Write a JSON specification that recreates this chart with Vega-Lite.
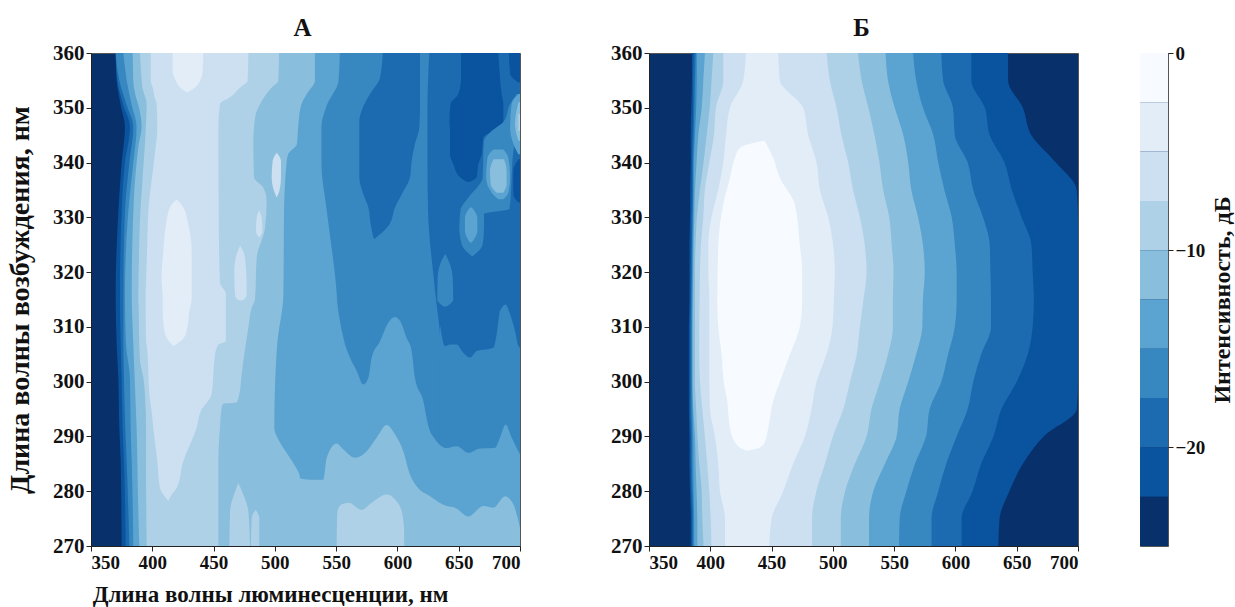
{"$schema":"https://vega.github.io/schema/vega-lite/v6.json","background":"white","padding":{"left":6,"top":15,"right":5,"bottom":0},"config":{"view":{"fill":"#08306b","stroke":"#555","strokeWidth":1},"font":"Liberation Serif"},
"datasets":{
"aBase":[
{"band":"a8","lvl":8,"ex":360,"x0":370.1,"x1":700},{"band":"a8","lvl":8,"ex":355,"x0":370.9,"x1":700},{"band":"a8","lvl":8,"ex":350.5,"x0":374.2,"x1":700},{"band":"a8","lvl":8,"ex":346.5,"x0":377.7,"x1":700},{"band":"a8","lvl":8,"ex":340,"x0":375,"x1":700},{"band":"a8","lvl":8,"ex":331,"x0":372.3,"x1":700},{"band":"a8","lvl":8,"ex":316,"x0":370.1,"x1":700},{"band":"a8","lvl":8,"ex":307,"x0":370.9,"x1":700},{"band":"a8","lvl":8,"ex":300.5,"x0":372.3,"x1":700},{"band":"a8","lvl":8,"ex":291.5,"x0":373.1,"x1":700},{"band":"a8","lvl":8,"ex":285.5,"x0":374.2,"x1":700},{"band":"a8","lvl":8,"ex":270,"x0":375,"x1":700},
{"band":"a7","lvl":7,"ex":360,"x0":370.1,"x1":700},{"band":"a7","lvl":7,"ex":355,"x0":371.5,"x1":700},{"band":"a7","lvl":7,"ex":350.5,"x0":376.4,"x1":700},{"band":"a7","lvl":7,"ex":346.5,"x0":381.8,"x1":700},{"band":"a7","lvl":7,"ex":340,"x0":377.7,"x1":700},{"band":"a7","lvl":7,"ex":331,"x0":375,"x1":700},{"band":"a7","lvl":7,"ex":316,"x0":373.6,"x1":700},{"band":"a7","lvl":7,"ex":307,"x0":374.2,"x1":700},{"band":"a7","lvl":7,"ex":300.5,"x0":375,"x1":700},{"band":"a7","lvl":7,"ex":291.5,"x0":375.8,"x1":700},{"band":"a7","lvl":7,"ex":285.5,"x0":376.9,"x1":700},{"band":"a7","lvl":7,"ex":270,"x0":378.3,"x1":700},
{"band":"a6","lvl":6,"ex":360,"x0":370.1,"x1":626},{"band":"a6","lvl":6,"ex":355,"x0":373.1,"x1":625},{"band":"a6","lvl":6,"ex":350.5,"x0":379.1,"x1":624.5},{"band":"a6","lvl":6,"ex":346.5,"x0":384.5,"x1":624.5},{"band":"a6","lvl":6,"ex":340,"x0":381.3,"x1":624.5},{"band":"a6","lvl":6,"ex":331,"x0":377.7,"x1":625},{"band":"a6","lvl":6,"ex":316,"x0":376.4,"x1":631},{"band":"a6","lvl":6,"ex":307,"x0":376.4,"x1":635},{"band":"a6","lvl":6,"ex":300.5,"x0":376.9,"x1":635},{"band":"a6","lvl":6,"ex":291.5,"x0":378,"x1":635},{"band":"a6","lvl":6,"ex":285.5,"x0":379.1,"x1":635},{"band":"a6","lvl":6,"ex":270,"x0":381.3,"x1":635},
{"band":"a5","lvl":5,"ex":360,"x0":376.4,"x1":553},{"band":"a5","lvl":5,"ex":355,"x0":379.1,"x1":552},{"band":"a5","lvl":5,"ex":350.5,"x0":383.2,"x1":542.5},{"band":"a5","lvl":5,"ex":346.5,"x0":387.2,"x1":538},{"band":"a5","lvl":5,"ex":340,"x0":384.5,"x1":538},{"band":"a5","lvl":5,"ex":331,"x0":380.4,"x1":542.5},{"band":"a5","lvl":5,"ex":316,"x0":377.7,"x1":550.5},{"band":"a5","lvl":5,"ex":307,"x0":378.5,"x1":552},{"band":"a5","lvl":5,"ex":300.5,"x0":381.8,"x1":552},{"band":"a5","lvl":5,"ex":291.5,"x0":382.3,"x1":552},{"band":"a5","lvl":5,"ex":285.5,"x0":383.2,"x1":552},{"band":"a5","lvl":5,"ex":270,"x0":384.5,"x1":552}
],
"aBottom":[
{"band":"v6","lvl":6,"nm":634.7,"ex":310.5,"base":270},{"band":"v6","lvl":6,"nm":638.8,"ex":306.5,"base":270},{"band":"v6","lvl":6,"nm":642.9,"ex":306.8,"base":270},{"band":"v6","lvl":6,"nm":648.3,"ex":306.8,"base":270},{"band":"v6","lvl":6,"nm":653.8,"ex":305.3,"base":270},{"band":"v6","lvl":6,"nm":659.2,"ex":304.4,"base":270},{"band":"v6","lvl":6,"nm":664.7,"ex":305.6,"base":270},{"band":"v6","lvl":6,"nm":678.3,"ex":306.2,"base":270},{"band":"v6","lvl":6,"nm":681,"ex":308.7,"base":270},{"band":"v6","lvl":6,"nm":683.7,"ex":312.9,"base":270},{"band":"v6","lvl":6,"nm":688.3,"ex":314.1,"base":270},{"band":"v6","lvl":6,"nm":691.9,"ex":312.3,"base":270},{"band":"v6","lvl":6,"nm":695.9,"ex":309.3,"base":270},{"band":"v6","lvl":6,"nm":698.7,"ex":306.5,"base":270},{"band":"v6","lvl":6,"nm":700,"ex":306.2,"base":270},
{"band":"v5","lvl":5,"nm":549.9,"ex":316,"base":270},{"band":"v5","lvl":5,"nm":551,"ex":314.1,"base":270},{"band":"v5","lvl":5,"nm":555.9,"ex":308,"base":270},{"band":"v5","lvl":5,"nm":561.3,"ex":304.4,"base":270},{"band":"v5","lvl":5,"nm":566.7,"ex":302,"base":270},{"band":"v5","lvl":5,"nm":572.2,"ex":299.5,"base":270},{"band":"v5","lvl":5,"nm":576.3,"ex":300.7,"base":270},{"band":"v5","lvl":5,"nm":579,"ex":304.4,"base":270},{"band":"v5","lvl":5,"nm":585.8,"ex":307.4,"base":270},{"band":"v5","lvl":5,"nm":592.6,"ex":310.8,"base":270},{"band":"v5","lvl":5,"nm":598,"ex":311.8,"base":270},{"band":"v5","lvl":5,"nm":602.1,"ex":311.1,"base":270},{"band":"v5","lvl":5,"nm":607.5,"ex":308,"base":270},{"band":"v5","lvl":5,"nm":611.6,"ex":305.6,"base":270},{"band":"v5","lvl":5,"nm":614.3,"ex":300.7,"base":270},{"band":"v5","lvl":5,"nm":621.1,"ex":296.5,"base":270},{"band":"v5","lvl":5,"nm":625.2,"ex":291.9,"base":270},{"band":"v5","lvl":5,"nm":630.7,"ex":289.5,"base":270},{"band":"v5","lvl":5,"nm":640.2,"ex":287.9,"base":270},{"band":"v5","lvl":5,"nm":648.3,"ex":288.2,"base":270},{"band":"v5","lvl":5,"nm":657.9,"ex":287,"base":270},{"band":"v5","lvl":5,"nm":667.4,"ex":287.8,"base":270},{"band":"v5","lvl":5,"nm":679.6,"ex":287.9,"base":270},{"band":"v5","lvl":5,"nm":683.7,"ex":289.8,"base":270},{"band":"v5","lvl":5,"nm":688.3,"ex":292.2,"base":270},{"band":"v5","lvl":5,"nm":693.2,"ex":289.8,"base":270},{"band":"v5","lvl":5,"nm":700,"ex":286.7,"base":270},
{"band":"v4","lvl":4,"nm":519,"ex":282.4,"base":270},{"band":"v4","lvl":4,"nm":528.7,"ex":282.1,"base":270},{"band":"v4","lvl":4,"nm":539.5,"ex":282.1,"base":270},{"band":"v4","lvl":4,"nm":542.3,"ex":286.1,"base":270},{"band":"v4","lvl":4,"nm":550.4,"ex":288.7,"base":270},{"band":"v4","lvl":4,"nm":555.9,"ex":287.6,"base":270},{"band":"v4","lvl":4,"nm":565.4,"ex":286.1,"base":270},{"band":"v4","lvl":4,"nm":574.9,"ex":287.3,"base":270},{"band":"v4","lvl":4,"nm":583.1,"ex":289.8,"base":270},{"band":"v4","lvl":4,"nm":591.2,"ex":292.1,"base":270},{"band":"v4","lvl":4,"nm":598,"ex":290.4,"base":270},{"band":"v4","lvl":4,"nm":604.8,"ex":287.3,"base":270},{"band":"v4","lvl":4,"nm":610.3,"ex":283,"base":270},{"band":"v4","lvl":4,"nm":615.7,"ex":280.9,"base":270},{"band":"v4","lvl":4,"nm":626.6,"ex":279.1,"base":270},{"band":"v4","lvl":4,"nm":640.2,"ex":277.3,"base":270},{"band":"v4","lvl":4,"nm":647,"ex":277,"base":270},{"band":"v4","lvl":4,"nm":657.9,"ex":275.4,"base":270},{"band":"v4","lvl":4,"nm":670.1,"ex":277.3,"base":270},{"band":"v4","lvl":4,"nm":678.3,"ex":277,"base":270},{"band":"v4","lvl":4,"nm":687.8,"ex":279.1,"base":270},{"band":"v4","lvl":4,"nm":694.6,"ex":277.6,"base":270},{"band":"v4","lvl":4,"nm":700,"ex":273.3,"base":270},
{"band":"v3","lvl":3,"nm":550.4,"ex":270.2,"base":270},{"band":"v3","lvl":3,"nm":551,"ex":276.3,"base":270},{"band":"v3","lvl":3,"nm":554.5,"ex":277.6,"base":270},{"band":"v3","lvl":3,"nm":560,"ex":277.9,"base":270},{"band":"v3","lvl":3,"nm":570.8,"ex":276.6,"base":270},{"band":"v3","lvl":3,"nm":579,"ex":277.9,"base":270},{"band":"v3","lvl":3,"nm":591.2,"ex":279.4,"base":270},{"band":"v3","lvl":3,"nm":598,"ex":278.5,"base":270},{"band":"v3","lvl":3,"nm":603.5,"ex":276.3,"base":270},{"band":"v3","lvl":3,"nm":605.4,"ex":273.3,"base":270},{"band":"v3","lvl":3,"nm":605.6,"ex":270.2,"base":270}
],
"aTop":[
{"band":"t4","lvl":4,"ex":360,"x0":384,"x1":532.7},{"band":"t4","lvl":4,"ex":355,"x0":384.5,"x1":532.7},{"band":"t4","lvl":4,"ex":352.5,"x0":386,"x1":526},{"band":"t4","lvl":4,"ex":350.5,"x0":388.6,"x1":521.5},{"band":"t4","lvl":4,"ex":346.5,"x0":391.3,"x1":519},{"band":"t4","lvl":4,"ex":343.4,"x0":389,"x1":518},{"band":"t4","lvl":4,"ex":341.6,"x0":388,"x1":511},{"band":"t4","lvl":4,"ex":340,"x0":387.2,"x1":509.6},{"band":"t4","lvl":4,"ex":331,"x0":384.5,"x1":507.5},{"band":"t4","lvl":4,"ex":316,"x0":383.2,"x1":507},{"band":"t4","lvl":4,"ex":307,"x0":384.5,"x1":502},{"band":"t4","lvl":4,"ex":303.8,"x0":385,"x1":501},{"band":"t4","lvl":4,"ex":291.5,"x0":387.2,"x1":499.6},{"band":"t4","lvl":4,"ex":289,"x0":387.5,"x1":504},{"band":"t4","lvl":4,"ex":285.5,"x0":387.8,"x1":514},{"band":"t4","lvl":4,"ex":282.4,"x0":388,"x1":520.5},{"band":"t4","lvl":4,"ex":270,"x0":389.4,"x1":520.5},
{"band":"t3","lvl":3,"ex":360,"x0":390,"x1":503.4},{"band":"t3","lvl":3,"ex":355,"x0":391.3,"x1":502.8},{"band":"t3","lvl":3,"ex":353.7,"x0":391.9,"x1":497.4},{"band":"t3","lvl":3,"ex":350.7,"x0":395.4,"x1":487.9},{"band":"t3","lvl":3,"ex":348.2,"x0":395.1,"x1":483.8},{"band":"t3","lvl":3,"ex":343.4,"x0":394,"x1":482.4},{"band":"t3","lvl":3,"ex":337.3,"x0":392.1,"x1":483},{"band":"t3","lvl":3,"ex":335.4,"x0":391.6,"x1":490.6},{"band":"t3","lvl":3,"ex":333,"x0":390.8,"x1":493.3},{"band":"t3","lvl":3,"ex":328.1,"x0":389.7,"x1":492},{"band":"t3","lvl":3,"ex":322.6,"x0":389.1,"x1":485.2},{"band":"t3","lvl":3,"ex":315,"x0":388.6,"x1":483.8},{"band":"t3","lvl":3,"ex":313.5,"x0":388.9,"x1":481.1},{"band":"t3","lvl":3,"ex":309.9,"x0":389.1,"x1":478.4},{"band":"t3","lvl":3,"ex":303.8,"x0":390,"x1":474.3},{"band":"t3","lvl":3,"ex":300.7,"x0":392.7,"x1":472.6},{"band":"t3","lvl":3,"ex":297.7,"x0":394,"x1":471},{"band":"t3","lvl":3,"ex":296.2,"x0":394.3,"x1":468.8},{"band":"t3","lvl":3,"ex":296,"x0":394.3,"x1":458},{"band":"t3","lvl":3,"ex":295.2,"x0":394.6,"x1":456.6},{"band":"t3","lvl":3,"ex":291.6,"x0":394.9,"x1":455.2},{"band":"t3","lvl":3,"ex":285.5,"x0":394.9,"x1":453.9},{"band":"t3","lvl":3,"ex":270,"x0":395.4,"x1":453.9},
{"band":"p1","lvl":3,"ex":281.5,"x0":470.2,"x1":470.2},{"band":"p1","lvl":3,"ex":279.4,"x0":466.7,"x1":474.3},{"band":"p1","lvl":3,"ex":276.3,"x0":463.4,"x1":478.4},{"band":"p1","lvl":3,"ex":270,"x0":462.9,"x1":479.7},
{"band":"p2","lvl":3,"ex":276.6,"x0":484.3,"x1":484.3},{"band":"p2","lvl":3,"ex":275.1,"x0":481.1,"x1":487.3},{"band":"p2","lvl":3,"ex":270,"x0":480.5,"x1":487.3},
{"band":"t2","lvl":2,"ex":360,"x0":398.7,"x1":478.4},{"band":"t2","lvl":2,"ex":355,"x0":398.7,"x1":477.8},{"band":"t2","lvl":2,"ex":353.7,"x0":400.3,"x1":471.6},{"band":"t2","lvl":2,"ex":351.9,"x0":401.9,"x1":463.4},{"band":"t2","lvl":2,"ex":350.7,"x0":403.6,"x1":455.2},{"band":"t2","lvl":2,"ex":346.4,"x0":404.1,"x1":453.9},{"band":"t2","lvl":2,"ex":340.3,"x0":401.4,"x1":453.9},{"band":"t2","lvl":2,"ex":331.2,"x0":396.8,"x1":454.2},{"band":"t2","lvl":2,"ex":325.1,"x0":395.9,"x1":454.4},{"band":"t2","lvl":2,"ex":318,"x0":394.9,"x1":455.2},{"band":"t2","lvl":2,"ex":316,"x0":394.6,"x1":460},{"band":"t2","lvl":2,"ex":307.4,"x0":394.9,"x1":460},{"band":"t2","lvl":2,"ex":306.8,"x0":395.4,"x1":453.9},{"band":"t2","lvl":2,"ex":305,"x0":396.2,"x1":451.2},{"band":"t2","lvl":2,"ex":297.7,"x0":397.6,"x1":448.4},{"band":"t2","lvl":2,"ex":294.6,"x0":399.5,"x1":439.5},{"band":"t2","lvl":2,"ex":291.6,"x0":400.8,"x1":436.2},{"band":"t2","lvl":2,"ex":285.5,"x0":404.1,"x1":425.3},{"band":"t2","lvl":2,"ex":280.6,"x0":406.3,"x1":419.9},{"band":"t2","lvl":2,"ex":279.4,"x0":409,"x1":415.8},{"band":"t2","lvl":2,"ex":278.2,"x0":413.1,"x1":413.1},
{"band":"ia","lvl":2,"ex":341.8,"x0":501.5,"x1":501.5},{"band":"ia","lvl":2,"ex":340.3,"x0":498.2,"x1":505},{"band":"ia","lvl":2,"ex":337.3,"x0":497.4,"x1":505},{"band":"ia","lvl":2,"ex":334.8,"x0":499.3,"x1":503.7},{"band":"ia","lvl":2,"ex":333.6,"x0":501.5,"x1":501.5},
{"band":"ib","lvl":2,"ex":331.2,"x0":487.1,"x1":487.1},{"band":"ib","lvl":2,"ex":329.9,"x0":485.2,"x1":489.2},{"band":"ib","lvl":2,"ex":327.5,"x0":484.6,"x1":489.8},{"band":"ib","lvl":2,"ex":326.3,"x0":487.1,"x1":487.1},
{"band":"ic","lvl":2,"ex":324.8,"x0":471.6,"x1":471.6},{"band":"ic","lvl":2,"ex":323.2,"x0":468.8,"x1":475.1},{"band":"ic","lvl":2,"ex":320.2,"x0":466.9,"x1":476.5},{"band":"ic","lvl":2,"ex":315.9,"x0":467.5,"x1":477},{"band":"ic","lvl":2,"ex":315,"x0":469.4,"x1":474.8},{"band":"ic","lvl":2,"ex":314.8,"x0":472.1,"x1":472.1},
{"band":"l1a","lvl":1,"ex":360,"x0":416.6,"x1":441.6},{"band":"l1a","lvl":1,"ex":356.8,"x0":416.6,"x1":441.1},{"band":"l1a","lvl":1,"ex":354.9,"x0":419.3,"x1":438.9},{"band":"l1a","lvl":1,"ex":353.7,"x0":422.6,"x1":434.8},{"band":"l1a","lvl":1,"ex":352.8,"x0":428.6,"x1":428.6},
{"band":"l1b","lvl":1,"ex":333.3,"x0":419.9,"x1":419.9},{"band":"l1b","lvl":1,"ex":331.8,"x0":414.4,"x1":425.3},{"band":"l1b","lvl":1,"ex":328.7,"x0":411.2,"x1":429.4},{"band":"l1b","lvl":1,"ex":323.8,"x0":409,"x1":432.1},{"band":"l1b","lvl":1,"ex":319,"x0":407.6,"x1":432.1},{"band":"l1b","lvl":1,"ex":315,"x0":408.5,"x1":432.1},{"band":"l1b","lvl":1,"ex":312.9,"x0":408.5,"x1":430.2},{"band":"l1b","lvl":1,"ex":309.9,"x0":409.5,"x1":428.6},{"band":"l1b","lvl":1,"ex":308,"x0":411.7,"x1":425.9},{"band":"l1b","lvl":1,"ex":306.5,"x0":417.2,"x1":417.2},
{"band":"q7","lvl":7,"ex":360,"x0":588,"x1":618.4},{"band":"q7","lvl":7,"ex":355.5,"x0":585.8,"x1":618.4},{"band":"q7","lvl":7,"ex":352.5,"x0":577.6,"x1":618.4},{"band":"q7","lvl":7,"ex":349.5,"x0":570.8,"x1":618.4},{"band":"q7","lvl":7,"ex":347.6,"x0":568.9,"x1":618.1},{"band":"q7","lvl":7,"ex":346.4,"x0":568.9,"x1":617.9},{"band":"q7","lvl":7,"ex":343.4,"x0":568.9,"x1":614.3},{"band":"q7","lvl":7,"ex":340.3,"x0":568.9,"x1":611.6},{"band":"q7","lvl":7,"ex":337.3,"x0":568.9,"x1":610.3},{"band":"q7","lvl":7,"ex":334.2,"x0":572.2,"x1":603.5},{"band":"q7","lvl":7,"ex":331.8,"x0":576.3,"x1":598},{"band":"q7","lvl":7,"ex":328.7,"x0":578.2,"x1":593.4},{"band":"q7","lvl":7,"ex":326.9,"x0":579.8,"x1":585.8},{"band":"q7","lvl":7,"ex":326,"x0":580.9,"x1":580.9},
{"band":"q8a","lvl":8,"ex":360,"x0":651.9,"x1":682.3},{"band":"q8a","lvl":8,"ex":355.5,"x0":651.9,"x1":683.7},{"band":"q8a","lvl":8,"ex":352.5,"x0":649.7,"x1":685},{"band":"q8a","lvl":8,"ex":350.7,"x0":643.4,"x1":686.4},{"band":"q8a","lvl":8,"ex":347.6,"x0":642.4,"x1":686.4},{"band":"q8a","lvl":8,"ex":345.8,"x0":642.9,"x1":678.3},{"band":"q8a","lvl":8,"ex":344.6,"x0":642.9,"x1":670.1},{"band":"q8a","lvl":8,"ex":341.5,"x0":642.9,"x1":668.7},{"band":"q8a","lvl":8,"ex":339.7,"x0":645.6,"x1":666},{"band":"q8a","lvl":8,"ex":337.3,"x0":651.1,"x1":664.7},{"band":"q8a","lvl":8,"ex":336.5,"x0":656.5,"x1":659.2},
{"band":"q8b","lvl":8,"ex":360,"x0":691,"x1":700},{"band":"q8b","lvl":8,"ex":356.2,"x0":691.9,"x1":700},{"band":"q8b","lvl":8,"ex":354.6,"x0":698.7,"x1":700},
{"band":"q8c","lvl":8,"ex":340.6,"x0":698.7,"x1":700},{"band":"q8c","lvl":8,"ex":338.5,"x0":694.6,"x1":700},{"band":"q8c","lvl":8,"ex":334.2,"x0":694.6,"x1":700},{"band":"q8c","lvl":8,"ex":332.7,"x0":698.7,"x1":700},
{"band":"b6","lvl":6,"ex":352.5,"x0":697.3,"x1":700},{"band":"b6","lvl":6,"ex":350.7,"x0":691.9,"x1":700},{"band":"b6","lvl":6,"ex":347.6,"x0":687,"x1":700},{"band":"b6","lvl":6,"ex":345.5,"x0":675.5,"x1":700},{"band":"b6","lvl":6,"ex":344,"x0":670.6,"x1":697.3},{"band":"b6","lvl":6,"ex":342.1,"x0":670.1,"x1":694.6},{"band":"b6","lvl":6,"ex":337.3,"x0":669.6,"x1":693.2},{"band":"b6","lvl":6,"ex":333.6,"x0":657.9,"x1":692.4},{"band":"b6","lvl":6,"ex":331.5,"x0":651.6,"x1":691.3},{"band":"b6","lvl":6,"ex":330.6,"x0":651.1,"x1":670.6},{"band":"b6","lvl":6,"ex":328.1,"x0":650.5,"x1":670.6},{"band":"b6","lvl":6,"ex":325.1,"x0":652.4,"x1":669.6},{"band":"b6","lvl":6,"ex":322.9,"x0":660.6,"x1":661.4},
{"band":"s6","lvl":6,"ex":323.2,"x0":638.8,"x1":639.4},{"band":"s6","lvl":6,"ex":321.4,"x0":634.7,"x1":642.9},{"band":"s6","lvl":6,"ex":318.9,"x0":632.8,"x1":645.1},{"band":"s6","lvl":6,"ex":315,"x0":632.5,"x1":645.5},{"band":"s6","lvl":6,"ex":313.7,"x0":637.5,"x1":640.2},
{"band":"c5a","lvl":5,"ex":342.4,"x0":678.3,"x1":686.4},{"band":"c5a","lvl":5,"ex":340.9,"x0":673.4,"x1":690.5},{"band":"c5a","lvl":5,"ex":337.3,"x0":672.3,"x1":691.9},{"band":"c5a","lvl":5,"ex":334.5,"x0":676.9,"x1":690.5},{"band":"c5a","lvl":5,"ex":333.3,"x0":682.3,"x1":686.4},
{"band":"c5b","lvl":5,"ex":352.5,"x0":698.7,"x1":700},{"band":"c5b","lvl":5,"ex":350.7,"x0":693.2,"x1":700},{"band":"c5b","lvl":5,"ex":346.4,"x0":691.9,"x1":700},{"band":"c5b","lvl":5,"ex":343.4,"x0":694.6,"x1":700},{"band":"c5b","lvl":5,"ex":341.5,"x0":698.7,"x1":700},
{"band":"c5c","lvl":5,"ex":331.8,"x0":659.2,"x1":660.6},{"band":"c5c","lvl":5,"ex":329.9,"x0":655.1,"x1":665.2},{"band":"c5c","lvl":5,"ex":327.5,"x0":655.1,"x1":665.2},{"band":"c5c","lvl":5,"ex":325.4,"x0":659.2,"x1":660.6},
{"band":"c4a","lvl":4,"ex":340.6,"x0":678.3,"x1":687},{"band":"c4a","lvl":4,"ex":338.5,"x0":675.5,"x1":689.1},{"band":"c4a","lvl":4,"ex":336,"x0":676.1,"x1":689.1},{"band":"c4a","lvl":4,"ex":334.5,"x0":681,"x1":686.4},
{"band":"c4b","lvl":4,"ex":351,"x0":698.7,"x1":700},{"band":"c4b","lvl":4,"ex":347,"x0":695.9,"x1":700},{"band":"c4b","lvl":4,"ex":344,"x0":698.7,"x1":700},
{"band":"c3b","lvl":3,"ex":348.8,"x0":698.7,"x1":700},{"band":"c3b","lvl":3,"ex":345.8,"x0":698.7,"x1":700}
],
"bMain":[
{"band":"B8","lvl":8,"ex":360,"x0":385,"x1":643},{"band":"B8","lvl":8,"ex":355,"x0":385,"x1":643},{"band":"B8","lvl":8,"ex":350,"x0":384.5,"x1":655},{"band":"B8","lvl":8,"ex":345,"x0":384,"x1":662},{"band":"B8","lvl":8,"ex":340,"x0":384,"x1":682},{"band":"B8","lvl":8,"ex":335,"x0":383.5,"x1":699},{"band":"B8","lvl":8,"ex":330,"x0":383.5,"x1":700},{"band":"B8","lvl":8,"ex":325,"x0":383,"x1":700},{"band":"B8","lvl":8,"ex":320,"x0":383,"x1":700},{"band":"B8","lvl":8,"ex":315,"x0":383,"x1":700},{"band":"B8","lvl":8,"ex":310,"x0":382.5,"x1":700},{"band":"B8","lvl":8,"ex":305,"x0":382.5,"x1":700},{"band":"B8","lvl":8,"ex":300,"x0":382.5,"x1":700},{"band":"B8","lvl":8,"ex":295,"x0":382.5,"x1":699},{"band":"B8","lvl":8,"ex":290,"x0":383,"x1":672},{"band":"B8","lvl":8,"ex":285,"x0":383,"x1":655},{"band":"B8","lvl":8,"ex":280,"x0":383.5,"x1":644},{"band":"B8","lvl":8,"ex":275,"x0":384,"x1":636},{"band":"B8","lvl":8,"ex":270,"x0":384,"x1":635},
{"band":"B7","lvl":7,"ex":360,"x0":386.5,"x1":613},{"band":"B7","lvl":7,"ex":355,"x0":386,"x1":613},{"band":"B7","lvl":7,"ex":350,"x0":386,"x1":624},{"band":"B7","lvl":7,"ex":345,"x0":385.5,"x1":628},{"band":"B7","lvl":7,"ex":340,"x0":385,"x1":640},{"band":"B7","lvl":7,"ex":335,"x0":385,"x1":646},{"band":"B7","lvl":7,"ex":330,"x0":384.5,"x1":654},{"band":"B7","lvl":7,"ex":325,"x0":384.5,"x1":662},{"band":"B7","lvl":7,"ex":320,"x0":384,"x1":663},{"band":"B7","lvl":7,"ex":315,"x0":384,"x1":664},{"band":"B7","lvl":7,"ex":310,"x0":383.5,"x1":663},{"band":"B7","lvl":7,"ex":305,"x0":383.5,"x1":659},{"band":"B7","lvl":7,"ex":300,"x0":383.5,"x1":650},{"band":"B7","lvl":7,"ex":295,"x0":383.5,"x1":637.5},{"band":"B7","lvl":7,"ex":290,"x0":384,"x1":631},{"band":"B7","lvl":7,"ex":285,"x0":384,"x1":621},{"band":"B7","lvl":7,"ex":280,"x0":384.5,"x1":614},{"band":"B7","lvl":7,"ex":275,"x0":385,"x1":605},{"band":"B7","lvl":7,"ex":270,"x0":385,"x1":605},
{"band":"B6","lvl":6,"ex":360,"x0":388,"x1":588.5},{"band":"B6","lvl":6,"ex":355,"x0":387.5,"x1":590},{"band":"B6","lvl":6,"ex":350,"x0":387,"x1":598},{"band":"B6","lvl":6,"ex":345,"x0":386.5,"x1":599.5},{"band":"B6","lvl":6,"ex":340,"x0":386,"x1":610},{"band":"B6","lvl":6,"ex":335,"x0":386,"x1":614.5},{"band":"B6","lvl":6,"ex":330,"x0":385.5,"x1":622.5},{"band":"B6","lvl":6,"ex":325,"x0":385,"x1":628},{"band":"B6","lvl":6,"ex":320,"x0":385,"x1":628.5},{"band":"B6","lvl":6,"ex":315,"x0":384.5,"x1":629},{"band":"B6","lvl":6,"ex":310,"x0":384.5,"x1":629},{"band":"B6","lvl":6,"ex":305,"x0":384.5,"x1":621},{"band":"B6","lvl":6,"ex":300,"x0":384.5,"x1":614.5},{"band":"B6","lvl":6,"ex":295,"x0":384.5,"x1":610},{"band":"B6","lvl":6,"ex":290,"x0":385,"x1":601},{"band":"B6","lvl":6,"ex":285,"x0":385,"x1":592.5},{"band":"B6","lvl":6,"ex":280,"x0":385.5,"x1":586},{"band":"B6","lvl":6,"ex":275,"x0":386,"x1":580.5},{"band":"B6","lvl":6,"ex":270,"x0":386,"x1":580.5},
{"band":"B5","lvl":5,"ex":360,"x0":389,"x1":565.5},{"band":"B5","lvl":5,"ex":355,"x0":389,"x1":568},{"band":"B5","lvl":5,"ex":350,"x0":388.5,"x1":573.5},{"band":"B5","lvl":5,"ex":345,"x0":387.5,"x1":582},{"band":"B5","lvl":5,"ex":340,"x0":386.5,"x1":586},{"band":"B5","lvl":5,"ex":335,"x0":386.3,"x1":591},{"band":"B5","lvl":5,"ex":330,"x0":386,"x1":597},{"band":"B5","lvl":5,"ex":325,"x0":385.8,"x1":599.5},{"band":"B5","lvl":5,"ex":320,"x0":385.5,"x1":601},{"band":"B5","lvl":5,"ex":315,"x0":385.3,"x1":601},{"band":"B5","lvl":5,"ex":310,"x0":385.2,"x1":599.5},{"band":"B5","lvl":5,"ex":305,"x0":385.2,"x1":594},{"band":"B5","lvl":5,"ex":300,"x0":385.2,"x1":588.5},{"band":"B5","lvl":5,"ex":295,"x0":385.5,"x1":579},{"band":"B5","lvl":5,"ex":290,"x0":386,"x1":576},{"band":"B5","lvl":5,"ex":285,"x0":386.2,"x1":567},{"band":"B5","lvl":5,"ex":280,"x0":386.4,"x1":560},{"band":"B5","lvl":5,"ex":275,"x0":386.8,"x1":554.5},{"band":"B5","lvl":5,"ex":270,"x0":386.8,"x1":554},
{"band":"B4","lvl":4,"ex":360,"x0":395.6,"x1":543},{"band":"B4","lvl":4,"ex":355,"x0":394.3,"x1":545},{"band":"B4","lvl":4,"ex":350,"x0":393,"x1":550.5},{"band":"B4","lvl":4,"ex":345,"x0":390.2,"x1":557.5},{"band":"B4","lvl":4,"ex":340,"x0":388.8,"x1":561.5},{"band":"B4","lvl":4,"ex":335,"x0":387.5,"x1":564},{"band":"B4","lvl":4,"ex":330,"x0":386.9,"x1":569.5},{"band":"B4","lvl":4,"ex":325,"x0":386.4,"x1":573.5},{"band":"B4","lvl":4,"ex":320,"x0":386.1,"x1":575},{"band":"B4","lvl":4,"ex":315,"x0":385.9,"x1":573.5},{"band":"B4","lvl":4,"ex":310,"x0":385.6,"x1":573},{"band":"B4","lvl":4,"ex":305,"x0":385.6,"x1":568},{"band":"B4","lvl":4,"ex":300,"x0":385.6,"x1":561.5},{"band":"B4","lvl":4,"ex":295,"x0":386.1,"x1":554.5},{"band":"B4","lvl":4,"ex":290,"x0":387.5,"x1":552},{"band":"B4","lvl":4,"ex":285,"x0":388,"x1":542.5},{"band":"B4","lvl":4,"ex":280,"x0":388.8,"x1":533},{"band":"B4","lvl":4,"ex":275,"x0":389.4,"x1":529.5},{"band":"B4","lvl":4,"ex":270,"x0":389.4,"x1":529.5},
{"band":"B3","lvl":3,"ex":360,"x0":402.5,"x1":520.5},{"band":"B3","lvl":3,"ex":355,"x0":401,"x1":523.5},{"band":"B3","lvl":3,"ex":350,"x0":399.5,"x1":529},{"band":"B3","lvl":3,"ex":345,"x0":397,"x1":534},{"band":"B3","lvl":3,"ex":340,"x0":394.5,"x1":538},{"band":"B3","lvl":3,"ex":335,"x0":391.5,"x1":541},{"band":"B3","lvl":3,"ex":330,"x0":389,"x1":546},{"band":"B3","lvl":3,"ex":325,"x0":388,"x1":548},{"band":"B3","lvl":3,"ex":320,"x0":387.5,"x1":549.5},{"band":"B3","lvl":3,"ex":315,"x0":387.5,"x1":549},{"band":"B3","lvl":3,"ex":310,"x0":387.5,"x1":549},{"band":"B3","lvl":3,"ex":305,"x0":387.5,"x1":545},{"band":"B3","lvl":3,"ex":300,"x0":387.5,"x1":538.5},{"band":"B3","lvl":3,"ex":295,"x0":388.5,"x1":531.5},{"band":"B3","lvl":3,"ex":290,"x0":389.5,"x1":527.5},{"band":"B3","lvl":3,"ex":285,"x0":391,"x1":518},{"band":"B3","lvl":3,"ex":280,"x0":393,"x1":510},{"band":"B3","lvl":3,"ex":275,"x0":393.5,"x1":506.5},{"band":"B3","lvl":3,"ex":270,"x0":394.5,"x1":506.5},
{"band":"B2","lvl":2,"ex":360,"x0":410.6,"x1":495},{"band":"B2","lvl":2,"ex":355,"x0":410.6,"x1":497.5},{"band":"B2","lvl":2,"ex":350,"x0":404.6,"x1":503},{"band":"B2","lvl":2,"ex":345,"x0":403,"x1":507},{"band":"B2","lvl":2,"ex":340,"x0":399.2,"x1":512.5},{"band":"B2","lvl":2,"ex":335,"x0":395.6,"x1":516.5},{"band":"B2","lvl":2,"ex":330,"x0":394.3,"x1":522},{"band":"B2","lvl":2,"ex":325,"x0":392.4,"x1":526},{"band":"B2","lvl":2,"ex":320,"x0":391.6,"x1":527.5},{"band":"B2","lvl":2,"ex":315,"x0":391.3,"x1":525},{"band":"B2","lvl":2,"ex":310,"x0":391,"x1":522},{"band":"B2","lvl":2,"ex":305,"x0":391,"x1":519.5},{"band":"B2","lvl":2,"ex":300,"x0":391.6,"x1":514},{"band":"B2","lvl":2,"ex":295,"x0":393.5,"x1":508.5},{"band":"B2","lvl":2,"ex":290,"x0":395.6,"x1":500},{"band":"B2","lvl":2,"ex":285,"x0":397.5,"x1":493.5},{"band":"B2","lvl":2,"ex":280,"x0":399.2,"x1":486.5},{"band":"B2","lvl":2,"ex":275,"x0":400.3,"x1":483},{"band":"B2","lvl":2,"ex":270,"x0":401,"x1":483},
{"band":"B1","lvl":1,"ex":360,"x0":429,"x1":455.4},{"band":"B1","lvl":1,"ex":355,"x0":426.9,"x1":456.8},{"band":"B1","lvl":1,"ex":350,"x0":416,"x1":475.8},{"band":"B1","lvl":1,"ex":345,"x0":412.8,"x1":479.9},{"band":"B1","lvl":1,"ex":340,"x0":410.6,"x1":486.7},{"band":"B1","lvl":1,"ex":335,"x0":406.5,"x1":489.4},{"band":"B1","lvl":1,"ex":330,"x0":401,"x1":496.2},{"band":"B1","lvl":1,"ex":325,"x0":398.4,"x1":500.2},{"band":"B1","lvl":1,"ex":320,"x0":398.4,"x1":501.6},{"band":"B1","lvl":1,"ex":315,"x0":399.2,"x1":500.8},{"band":"B1","lvl":1,"ex":310,"x0":399.2,"x1":499.7},{"band":"B1","lvl":1,"ex":305,"x0":399.2,"x1":494.8},{"band":"B1","lvl":1,"ex":300,"x0":399.2,"x1":486.7},{"band":"B1","lvl":1,"ex":295,"x0":399.7,"x1":482.6},{"band":"B1","lvl":1,"ex":290,"x0":403.8,"x1":477.2},{"band":"B1","lvl":1,"ex":285,"x0":406.5,"x1":467.6},{"band":"B1","lvl":1,"ex":280,"x0":407.9,"x1":459.5},{"band":"B1","lvl":1,"ex":275,"x0":412,"x1":450},{"band":"B1","lvl":1,"ex":270,"x0":412,"x1":448.1},
{"band":"B0","lvl":0,"ex":344,"x0":444.5,"x1":444.5},{"band":"B0","lvl":0,"ex":342.7,"x0":424.2,"x1":447.3},{"band":"B0","lvl":0,"ex":340.9,"x0":420.1,"x1":451.3},{"band":"B0","lvl":0,"ex":337.2,"x0":416,"x1":456.8},{"band":"B0","lvl":0,"ex":332.4,"x0":410.6,"x1":469},{"band":"B0","lvl":0,"ex":325,"x0":406.5,"x1":473},{"band":"B0","lvl":0,"ex":320,"x0":406,"x1":475},{"band":"B0","lvl":0,"ex":315,"x0":405.7,"x1":475},{"band":"B0","lvl":0,"ex":310,"x0":406.5,"x1":473},{"band":"B0","lvl":0,"ex":305,"x0":409.2,"x1":465},{"band":"B0","lvl":0,"ex":300,"x0":411,"x1":456.8},{"band":"B0","lvl":0,"ex":296.5,"x0":413.8,"x1":451.3},{"band":"B0","lvl":0,"ex":291.6,"x0":416,"x1":447.3},{"band":"B0","lvl":0,"ex":289,"x0":420.1,"x1":444.5},{"band":"B0","lvl":0,"ex":288,"x0":424,"x1":440.5},{"band":"B0","lvl":0,"ex":287.4,"x0":429.6,"x1":429.6}
],
"bar":[{"top":0,"bot":-2.5,"lvl":0},{"top":-2.5,"bot":-5,"lvl":1},{"top":-5,"bot":-7.5,"lvl":2},{"top":-7.5,"bot":-10,"lvl":3},{"top":-10,"bot":-12.5,"lvl":4},{"top":-12.5,"bot":-15,"lvl":5},{"top":-15,"bot":-17.5,"lvl":6},{"top":-17.5,"bot":-20,"lvl":7},{"top":-20,"bot":-22.5,"lvl":8},{"top":-22.5,"bot":-25,"lvl":9}]
},
"hconcat":[
{"spacing":129,"bounds":"flush","hconcat":[
{"width":429,"height":493,"title":{"text":"А","font":"Liberation Serif","fontWeight":"bold","fontSize":25,"color":"#111","offset":1,"dx":-3},
"layer":[
{"data":{"name":"aBase"},"mark":{"type":"area","orient":"horizontal","clip":true,"interpolate":"monotone"},"encoding":{
"y":{"field":"ex","type":"quantitative","scale":{"domain":[270,360],"nice":false,"zero":false},"axis":{"values":[270,280,290,300,310,320,330,340,350,360],"format":"d","grid":false,"domainColor":"#222","tickColor":"#222","tickSize":5,"labelFont":"Liberation Serif","labelFontWeight":"bold","labelFontSize":21,"labelColor":"#111","labelPadding":2,"title":"Длина волны возбуждения, нм","titleFont":"Liberation Serif","titleFontWeight":"bold","titleFontSize":28,"titleColor":"#111","titlePadding":18}},
"x":{"field":"x0","type":"quantitative","scale":{"domain":[350,700],"nice":false,"zero":false},"axis":{"values":[350,400,450,500,550,600,650,700],"format":"d","grid":false,"domainColor":"#222","tickColor":"#222","tickSize":5,"labelFont":"Liberation Serif","labelFontWeight":"bold","labelFontSize":19,"labelColor":"#111","labelPadding":2,"title":"Длина волны люминесценции, нм","titleX":179,"titleFont":"Liberation Serif","titleFontWeight":"bold","titleFontSize":23,"titleColor":"#111","titlePadding":11}},
"x2":{"field":"x1"},"detail":{"field":"band"},
"color":{"field":"lvl","type":"ordinal","legend":null,"scale":{"domain":[0,1,2,3,4,5,6,7,8,9],"range":["#f7fbff","#e2edf8","#cde0f1","#afd1e7","#89bedc","#5ba3d0","#3787c0","#1c6bb0","#0a539e","#08306b"]}}}},
{"data":{"name":"aBottom"},"mark":{"type":"area","orient":"vertical","clip":true,"interpolate":"monotone"},"encoding":{
"x":{"field":"nm","type":"quantitative"},"y":{"field":"ex","type":"quantitative"},"y2":{"field":"base"},"detail":{"field":"band"},"color":{"field":"lvl","type":"ordinal"}}},
{"data":{"name":"aTop"},"mark":{"type":"area","orient":"horizontal","clip":true,"interpolate":"monotone"},"encoding":{
"y":{"field":"ex","type":"quantitative"},"x":{"field":"x0","type":"quantitative"},"x2":{"field":"x1"},"detail":{"field":"band"},"color":{"field":"lvl","type":"ordinal"}}}
]},
{"width":429,"height":493,"title":{"text":"Б","font":"Liberation Serif","fontWeight":"bold","fontSize":25,"color":"#111","offset":1,"dx":-2},
"data":{"name":"bMain"},"mark":{"type":"area","orient":"horizontal","clip":true,"interpolate":"monotone"},"encoding":{
"y":{"field":"ex","type":"quantitative","scale":{"domain":[270,360],"nice":false,"zero":false},"axis":{"values":[270,280,290,300,310,320,330,340,350,360],"format":"d","grid":false,"domainColor":"#222","tickColor":"#222","tickSize":5,"labelFont":"Liberation Serif","labelFontWeight":"bold","labelFontSize":21,"labelColor":"#111","labelPadding":2,"title":null}},
"x":{"field":"x0","type":"quantitative","scale":{"domain":[350,700],"nice":false,"zero":false},"axis":{"values":[350,400,450,500,550,600,650,700],"format":"d","grid":false,"domainColor":"#222","tickColor":"#222","tickSize":5,"labelFont":"Liberation Serif","labelFontWeight":"bold","labelFontSize":19,"labelColor":"#111","labelPadding":2,"title":null}},
"x2":{"field":"x1"},"detail":{"field":"band"},
"color":{"field":"lvl","type":"ordinal","legend":null,"scale":{"domain":[0,1,2,3,4,5,6,7,8,9],"range":["#f7fbff","#e2edf8","#cde0f1","#afd1e7","#89bedc","#5ba3d0","#3787c0","#1c6bb0","#0a539e","#08306b"]}}}}
],"resolve":{"scale":{"x":"independent","y":"independent","color":"independent"}}},
{"width":28,"height":493,"title":{"text":" ","font":"Liberation Serif","fontWeight":"bold","fontSize":25,"offset":1},"data":{"name":"bar"},"mark":{"type":"rect"},"encoding":{
"y":{"field":"top","type":"quantitative","scale":{"domain":[-25,0],"nice":false,"zero":false},"axis":{"orient":"right","values":[0,-10,-20],"format":"d","grid":false,"domain":false,"tickColor":"#222","tickSize":5,"labelFont":"Liberation Serif","labelFontWeight":"bold","labelFontSize":19,"labelColor":"#111","labelPadding":2,"title":"Интенсивность, дБ","titleAngle":270,"titleFont":"Liberation Serif","titleFontWeight":"bold","titleFontSize":24,"titleColor":"#111","titlePadding":30}},
"y2":{"field":"bot"},
"color":{"field":"lvl","type":"ordinal","legend":null,"scale":{"domain":[0,1,2,3,4,5,6,7,8,9],"range":["#f7fbff","#e2edf8","#cde0f1","#afd1e7","#89bedc","#5ba3d0","#3787c0","#1c6bb0","#0a539e","#08306b"]}}}}
],"spacing":60,"resolve":{"scale":{"color":"independent"}}}
